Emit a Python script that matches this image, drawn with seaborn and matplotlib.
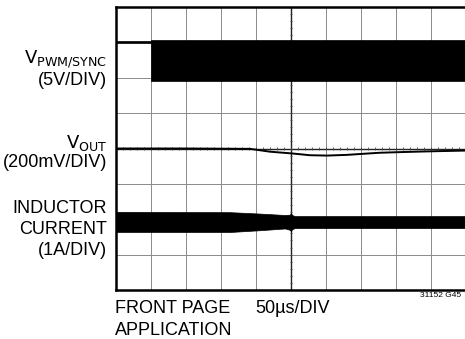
import matplotlib
matplotlib.use("Agg")
import matplotlib.pyplot as plt
import numpy as np
import seaborn as sns

# scope screen: 10 x 8 divisions, values read in divisions
# V_PWM/SYNC band (high level line, then switching band)
pwm_x = [0.0, 0.99, 0.99, 10.0]
pwm_top = [7.03, 7.03, 7.07, 7.07]
pwm_bot = [6.97, 6.97, 5.91, 5.91]

# V_OUT trace
vout_x = [0.0, 2.0, 3.83, 4.4, 5.03, 5.54, 6.03, 6.6, 7.06, 7.54, 8.2, 8.97, 9.91, 10.0]
vout_y = [4.0, 4.0, 3.99, 3.91, 3.86, 3.81, 3.80, 3.82, 3.85, 3.88, 3.90, 3.92, 3.94, 3.94]

# inductor current envelope
il_x = [0.0, 3.26, 4.11, 4.83, 4.97, 5.0, 5.03, 5.11, 10.0]
il_top = [2.21, 2.20, 2.16, 2.12, 2.13, 2.17, 2.12, 2.09, 2.09]
il_bot = [1.64, 1.64, 1.69, 1.74, 1.70, 1.66, 1.72, 1.75, 1.75]

sns.set_style("white", {"text.color": "black"})
plt.rcParams['font.family'] = ['Liberation Sans Narrow', 'Liberation Sans', 'DejaVu Sans']
plt.rcParams['mathtext.fontset'] = 'custom'
plt.rcParams['mathtext.rm'] = 'Liberation Sans Narrow'

fig = plt.figure(figsize=(4.65, 3.39), dpi=100)
ax = fig.add_axes([116 / 465, 1 - 290 / 339, 350 / 465, 283 / 339])
ax.set_xlim(0, 10)
ax.set_ylim(0, 8)

# graticule
for gx in range(1, 10):
    ax.axvline(gx, color='#8a8a8a', lw=0.7, zorder=1)
for gy in range(1, 8):
    ax.axhline(gy, color='#8a8a8a', lw=0.7, zorder=1)
ax.axvline(5, color='#222222', lw=1.0, zorder=1)
ax.axhline(4, color='#222222', lw=1.0, zorder=1)
ticks_x = np.arange(0.2, 10, 0.2)
ticks_y = np.arange(0.2, 8, 0.2)
ax.vlines(ticks_x, 4 - 0.035, 4 + 0.035, color='#444444', lw=0.6, zorder=1)
ax.hlines(ticks_y, 5 - 0.035, 5 + 0.035, color='#444444', lw=0.6, zorder=1)

# traces
ax.fill_between(pwm_x, pwm_bot, pwm_top, color='black', lw=0.5, zorder=3)
ax.fill_between(il_x, il_bot, il_top, color='black', lw=0.5, zorder=3)
sns.lineplot(x=vout_x, y=vout_y, ax=ax, color='black', lw=1.4, zorder=3)

ax.set_xticks([])
ax.set_yticks([])
for s in ['left', 'bottom', 'top']:
    ax.spines[s].set_color('black')
    ax.spines[s].set_linewidth(1.8)
ax.spines['right'].set_visible(False)

# labels
fs = 13
def px(x, y):
    return x / 465, 1 - y / 339

fig.text(*px(107, 64), r'$\mathrm{V_{PWM/SYNC}}$', ha='right', va='baseline', fontsize=fs)
fig.text(*px(107, 85), '(5V/DIV)', ha='right', va='baseline', fontsize=fs)
fig.text(*px(107, 148), r'$\mathrm{V_{OUT}}$', ha='right', va='baseline', fontsize=fs)
fig.text(*px(107, 167), '(200mV/DIV)', ha='right', va='baseline', fontsize=fs)
fig.text(*px(107, 213), 'INDUCTOR', ha='right', va='baseline', fontsize=fs)
fig.text(*px(107, 234), 'CURRENT', ha='right', va='baseline', fontsize=fs)
fig.text(*px(107, 255), '(1A/DIV)', ha='right', va='baseline', fontsize=fs)
fig.text(*px(115, 313), 'FRONT PAGE', ha='left', va='baseline', fontsize=fs)
fig.text(*px(115, 335), 'APPLICATION', ha='left', va='baseline', fontsize=fs)
fig.text(*px(255, 313), '50µs/DIV', ha='left', va='baseline', fontsize=fs)
fig.text(*px(420, 297), '31152 G45', ha='left', va='baseline', fontsize=6)

fig.savefig('out.png', dpi=100)
